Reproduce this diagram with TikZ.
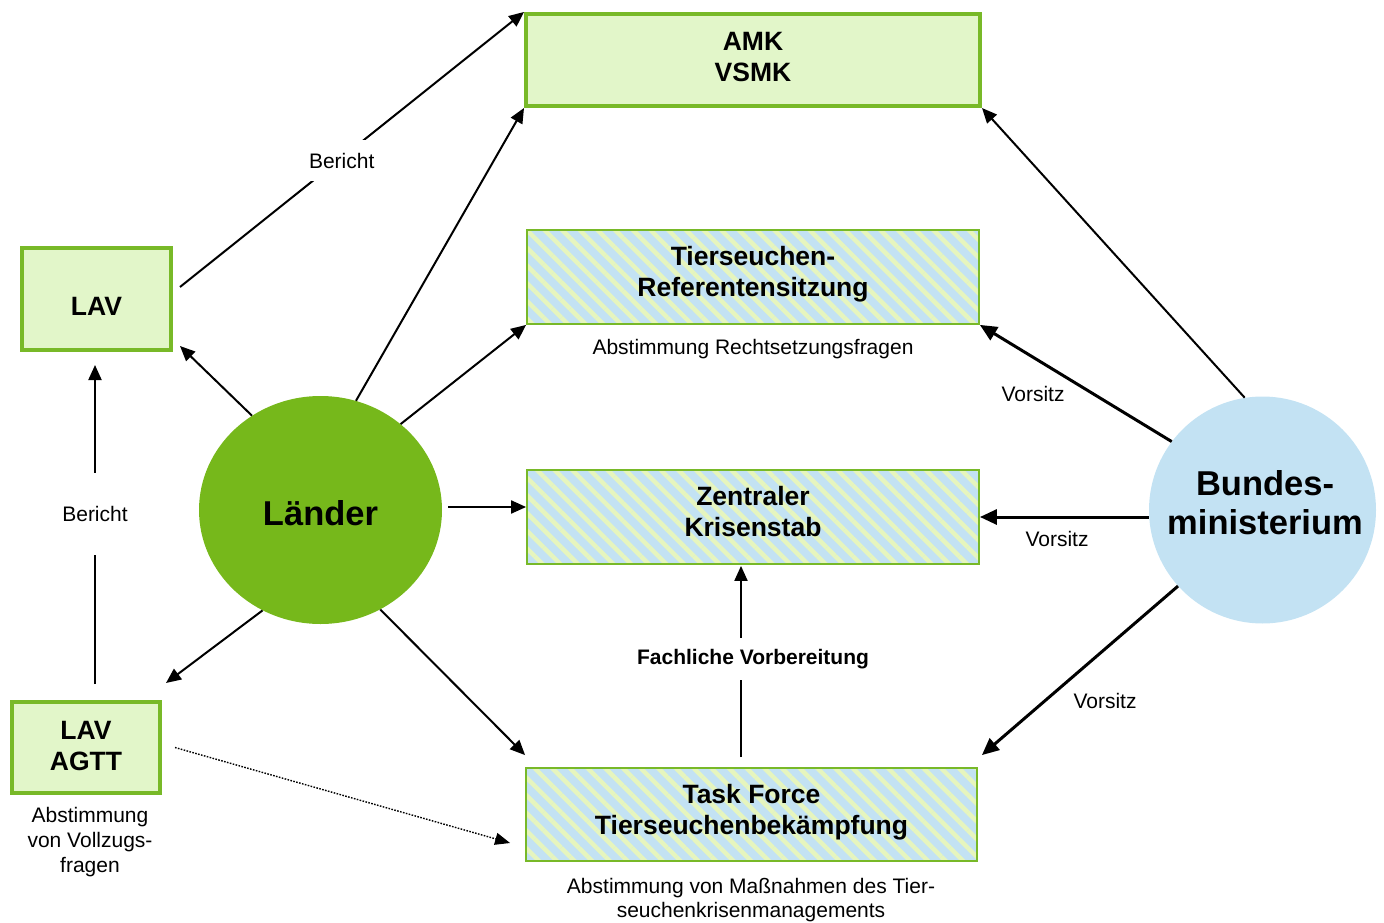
\documentclass[tikz,border=0pt]{standalone}
\usepackage{fontspec}
\setmainfont{Liberation Sans}
\usetikzlibrary{arrows.meta,patterns.meta,calc,shapes.geometric}
\definecolor{gborder}{HTML}{78B928}
\definecolor{gfill}{HTML}{E2F6C9}
\definecolor{gdark}{HTML}{76B81B}
\definecolor{bfill}{HTML}{C3E2F3}
\definecolor{stripe}{HTML}{E6F5BE}
\begin{document}
\begin{tikzpicture}[x=1pt,y=-1pt,
  titlefont/.style={font=\fontsize{26.5}{31}\selectfont\bfseries, align=center},
  bigfont/.style={font=\fontsize{34.5}{39}\selectfont\bfseries, align=center},
  greenbox/.style={draw=gborder, line width=4pt, fill=gfill, inner sep=0pt},
  hatchbox/.style={preaction={fill=bfill}, pattern={Lines[angle=-45,distance=12.5pt,line width=4.5pt]}, pattern color=stripe,
     draw=gborder, line width=1.8pt, inner sep=0pt, minimum width=452pt, minimum height=94pt},
  lbl/.style={font=\fontsize{21}{25}\selectfont, align=center},
  arr/.style={-{Triangle[length=15pt 0 0,width=13pt 0 0]}, line width=2pt},
  thickarr/.style={-{Triangle[length=17pt 0 0,width=15pt 0 0]}, line width=3pt},
  dotarr/.style={-{Triangle[length=15pt 0 0,width=12pt 0 0]}, line width=1.4pt, dash pattern=on 1.6pt off 1.4pt},
  gaplbl/.style={lbl, fill=white, inner xsep=4pt},
]
\useasboundingbox (0,0) rectangle (1384,923);
% boxes
\node[greenbox, minimum width=454pt, minimum height=92pt] (AMK) at (753,60) {};
\node[titlefont] (AMKt) at (753,57) {AMK\\VSMK};
\node[greenbox, minimum width=149pt, minimum height=102pt] (LAV) at (96.5,299) {};
\node[titlefont] (LAVt) at (96.5,306) {LAV};
\node[greenbox, minimum width=148pt, minimum height=91pt] (AGTT) at (86,747.5) {};
\node[titlefont] (AGTTt) at (86,746.5) {LAV\\AGTT};
\node[hatchbox] (TR) at (753,277) {};
\node[titlefont] (TRt) at (753,274) {Tierseuchen-\\Referentensitzung};
\node[hatchbox] (ZK) at (753,517) {};
\node[titlefont] (ZKt) at (753,512) {Zentraler\\Krisenstab};
\node[hatchbox, minimum width=451pt, minimum height=93pt] (TF) at (751.5,814.5) {};
\node[titlefont] (TFt) at (751.5,812.5) {Task Force\\Tierseuchenbekämpfung};
% circles
\node[ellipse, fill=gdark, minimum width=243pt, minimum height=228pt, inner sep=0pt] (L) at (320.5,510) {};
\node[bigfont] (Lt) at (320.5,513) {Länder};
\node[circle, fill=bfill, minimum size=227pt, inner sep=0pt] (B) at (1262.5,510) {};
\node[bigfont] (Bt) at (1265,503) {Bundes-\\ministerium};
% labels
\node[lbl] (l1) at (753,349) {Abstimmung Rechtsetzungsfragen};
\node[lbl, font=\fontsize{21}{24}\selectfont] (l2) at (751,900) {Abstimmung von Maßnahmen des Tier-\\seuchenkrisenmanagements};
\node[lbl] (l3) at (90,842) {Abstimmung\\von Vollzugs-\\fragen};
\node[lbl] (v1) at (1033,394) {Vorsitz};
\node[lbl] (v2) at (1057,539) {Vorsitz};
\node[lbl] (v3) at (1105,701) {Vorsitz};
% connectors from Länder
\draw[arr] (L.126) -- ($(LAV.south east)+(7,-6)$);
\draw[arr] (L.72) -- (AMK.south west);
\draw[arr] (L.47) -- (TR.south west);
\draw[arr] ($(L.east)+(6,-3)$) -- ($(ZK.west)+(0,-10)$);
\draw[arr] (L.-59) -- ($(TF.north west)+(0,-12)$);
\draw[arr] (L.240) -- ($(AGTT.north east)+(4,-17)$);
% connectors from Bundesministerium
\draw[arr] (B.99) -- (AMK.south east);
\draw[thickarr] (B.143) -- (TR.south east);
\draw[thickarr] (B.west |- ZK.east) -- (ZK.east);
\draw[thickarr] (B.222) -- ($(TF.north east)+(4,-12)$);
% reports
\draw[arr] ($(LAV.east)+(7,-12)$) -- (AMK.north west) node[gaplbl, pos=0.47, inner ysep=13pt, yshift=-3pt] (b1) {Bericht};
\draw[arr] ($(AGTT.north)+(9,-16)$) -- ($(LAV.south)+(-1.5,13)$) node[gaplbl, pos=0.545, minimum height=82pt, inner ysep=0pt, yshift=-4pt] (b2) {Bericht};
\draw[arr] ($(TF.north)+(-10.5,-10)$) -- ($(ZK.south)+(-12,1)$);
\node[gaplbl, inner ysep=11pt, font=\fontsize{21}{24}\selectfont\bfseries] (fv) at (753,659) {Fachliche Vorbereitung};
\draw[dotarr] ($(AGTT.east)+(13,0)$) -- ($(TF.west)+(-15,28.5)$);
\end{tikzpicture}
\end{document}
